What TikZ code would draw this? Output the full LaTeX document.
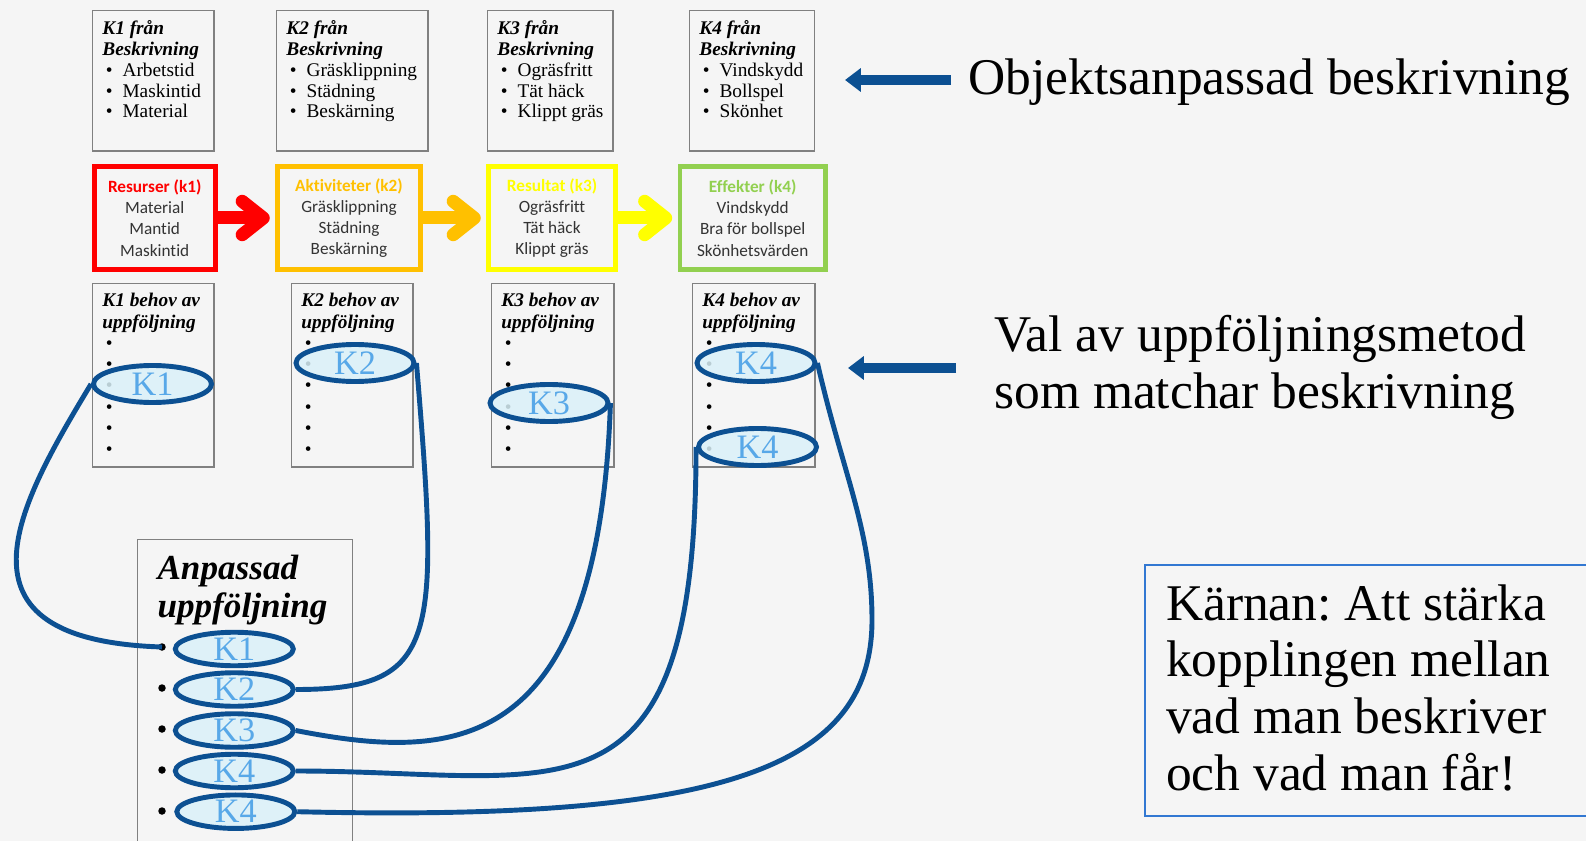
\documentclass[tikz,border=0pt]{standalone}
\usepackage{fontspec}
\setmainfont{Liberation Serif}
\setsansfont{Carlito}[Ligatures=NoCommon]
\usetikzlibrary{shapes.geometric,arrows.meta}
\frenchspacing

\definecolor{boxgray}{RGB}{128,128,128}
\definecolor{resred}{RGB}{255,0,0}
\definecolor{aktorange}{RGB}{255,192,0}
\definecolor{resyellow}{RGB}{255,255,0}
\definecolor{effgreen}{RGB}{146,208,80}
\definecolor{linkblue}{RGB}{12,80,146}
\definecolor{ellfill}{RGB}{218,241,249}
\definecolor{ktext}{RGB}{88,168,232}
\definecolor{karnblue}{RGB}{50,120,210}

\newcommand{\itm}[1]{\hspace*{2pt}\makebox[9.5pt][l]{\textbullet}#1}
\newcommand{\rubrik}[1]{\textbf{\textit{#1}}}
\newcommand{\ruta}[3]{\parbox[c][#2][t]{#1}{\raggedright #3}}

\tikzset{
  beskr/.style={draw=boxgray, line width=0.8pt, anchor=north west, inner sep=5.5pt, font=\fontsize{11}{11.9}\selectfont},
  behov/.style={beskr, font=\fontsize{11}{12.1}\selectfont},
  kbox/.style={line width=2.8pt, minimum height=2.05cm, align=center, text=black!80, font=\sffamily\fontsize{9.8}{12.1}\selectfont},
  flow/.style={line width=7.4pt, -{Straight Barb[round, length=12pt, width=19pt]}, shorten >=3pt},
  kell/.style={ellipse, draw=linkblue, line width=2.8pt, fill=ellfill, fill opacity=0.85, text opacity=1, text=ktext, inner sep=0pt, minimum width=2.36cm, minimum height=0.74cm, font=\fontsize{19.5}{19.5}\selectfont},
  anpell/.style={kell, minimum height=0.67cm},
  link/.style={draw=linkblue, line width=2.8pt},
  dot/.style={circle, fill=black, inner sep=0pt, minimum size=0.15cm},
  pil/.style={draw=linkblue, line width=5.7pt, -{Triangle[length=9pt, width=13pt]}},
  bigtxt/.style={font=\fontsize{29.3}{32.3}\selectfont, inner sep=0pt}
}

\begin{document}
\begin{tikzpicture}[x=0.02cm, y=-0.02cm]
\useasboundingbox (0,0) rectangle (1586,841);
\clip (0,0) rectangle (1586,841);
\fill[black!4] (0,0) rectangle (1586,841);

% fran beskrivning
\node[beskr] (beskr1) at (92,10) {\ruta{58pt}{68.9pt}{\rubrik{K1 från}\\ \rubrik{Beskrivning}\\ \itm{Arbetstid}\\ \itm{Maskintid}\\ \itm{Material}}};
\node[beskr] (beskr2) at (276,10) {\ruta{75.2pt}{68.9pt}{\rubrik{K2 från}\\ \rubrik{Beskrivning}\\ \itm{Gräsklippning}\\ \itm{Städning}\\ \itm{Beskärning}}};
\node[beskr] (beskr3) at (487,10) {\ruta{60.4pt}{68.9pt}{\rubrik{K3 från}\\ \rubrik{Beskrivning}\\ \itm{Ogräsfritt}\\ \itm{Tät häck}\\ \itm{Klippt gräs}}};
\node[beskr] (beskr4) at (689,10) {\ruta{59.9pt}{68.9pt}{\rubrik{K4 från}\\ \rubrik{Beskrivning}\\ \itm{Vindskydd}\\ \itm{Bollspel}\\ \itm{Skönhet}}};

% kedjan
\node[kbox, draw=resred, minimum width=2.42cm] (resurser) at (154.7,218) {\textbf{\textcolor{resred}{Resurser (k1)}}\\Material\\Mantid\\Maskintid};
\node[kbox, draw=aktorange, minimum width=2.86cm] (aktiviteter) at (349,218) {\textbf{\textcolor{aktorange}{Aktiviteter (k2)}}\\Gräsklippning\\Städning\\Beskärning};
\node[kbox, draw=resyellow, minimum width=2.54cm] (resultat) at (552,218) {\textbf{\textcolor{resyellow}{Resultat (k3)}}\\Ogräsfritt\\Tät häck\\Klippt gräs};
\node[kbox, draw=effgreen, minimum width=2.91cm] (effekter) at (752.7,218) {\textbf{\textcolor{effgreen}{Effekter (k4)}}\\Vindskydd\\Bra för bollspel\\Skönhetsvärden};
\draw[flow, resred] (resurser) -- (aktiviteter);
\draw[flow, aktorange] (aktiviteter) -- (resultat);
\draw[flow, resyellow] (resultat) -- (effekter);

% behov av uppfoljning
\node[behov] (behov1) at (92,283) {\ruta{58pt}{93.3pt}{\rubrik{K1 behov av}\\ \rubrik{uppföljning}\\ \itm{}\\ \itm{}\\ \itm{}\\ \itm{}\\ \itm{}\\ \itm{}}};
\node[behov] (behov2) at (291,283) {\ruta{58pt}{93.3pt}{\rubrik{K2 behov av}\\ \rubrik{uppföljning}\\ \itm{}\\ \itm{}\\ \itm{}\\ \itm{}\\ \itm{}\\ \itm{}}};
\node[behov] (behov3) at (491,283) {\ruta{58.6pt}{93.3pt}{\rubrik{K3 behov av}\\ \rubrik{uppföljning}\\ \itm{}\\ \itm{}\\ \itm{}\\ \itm{}\\ \itm{}\\ \itm{}}};
\node[behov] (behov4) at (692,283) {\ruta{58.6pt}{93.3pt}{\rubrik{K4 behov av}\\ \rubrik{uppföljning}\\ \itm{}\\ \itm{}\\ \itm{}\\ \itm{}\\ \itm{}\\ \itm{}}};

% anpassad uppfoljning
\node[draw=boxgray, line width=0.8pt, anchor=north west, inner xsep=11.3pt, inner ysep=9pt, font=\fontsize{20}{21.5}\selectfont] (anp) at (137,539) {\ruta{99.8pt}{169pt}{\rubrik{Anpassad}\\ \rubrik{uppföljning}}};
\node[dot] (a1) at (162,647) {};
\node[dot] (a2) at (162,688) {};
\node[dot] (a3) at (162,729) {};
\node[dot] (a4) at (162,770) {};
\node[dot] (a5) at (162,811) {};

% ellipser
\node[kell] (k1mid) at (152.5,384) {K1};
\node[kell] (k2mid) at (355,363) {K2};
\node[kell] (k3mid) at (549,403) {K3};
\node[kell] (k4top) at (756,363) {K4};
\node[kell] (k4bot) at (757.5,447) {K4};
\node[anpell] (e1) at (234.3,649) {K1};
\node[anpell] (e2) at (234.3,689.5) {K2};
\node[anpell] (e3) at (234.3,730.5) {K3};
\node[anpell] (e4) at (234.3,771) {K4};
\node[anpell] (e5) at (235.8,811.7) {K4};

% kopplingar
\draw[link] (k1mid.west) .. controls +(-73,121) and +(-221,-7) .. (a1.center);
\draw[link] (k2mid.east) .. controls +(23,277) and +(144,0) .. (e2.east);
\draw[link] (k3mid.east) .. controls +(-12,357) and +(154,30) .. (e3.east);
\draw[link] (k4bot.west) .. controls +(0,393) and +(264,0) .. (e4.east);
\draw[link] (k4top.east) .. controls +(25,110) and +(0,-90) .. (872,620) .. controls +(0,150) and +(420,10) .. (e5.east);

% texter till hoger
\coordinate (objtail) at (951,80);
\coordinate (objtip) at (845,80);
\draw[pil] (objtail) -- (objtip);
\node[bigtxt, anchor=base west] (objtxt) at (968,95) {Objektsanpassad beskrivning};
\coordinate (valtail) at (956,368);
\coordinate (valtip) at (848,368);
\draw[pil] (valtail) -- (valtip);
\node[bigtxt, anchor=base west, align=left] (valtxt) at (994,408) {Val av uppföljningsmetod\\som matchar beskrivning};

\node[draw=karnblue, line width=1.1pt, anchor=north west, inner xsep=12pt, inner ysep=11pt, font=\fontsize{29.3}{32.3}\selectfont] (karna) at (1144,564) {\ruta{240pt}{120.9pt}{Kärnan: Att stärka\\ kopplingen mellan\\ vad man beskriver\\ och vad man får!}};
\end{tikzpicture}
\end{document}
